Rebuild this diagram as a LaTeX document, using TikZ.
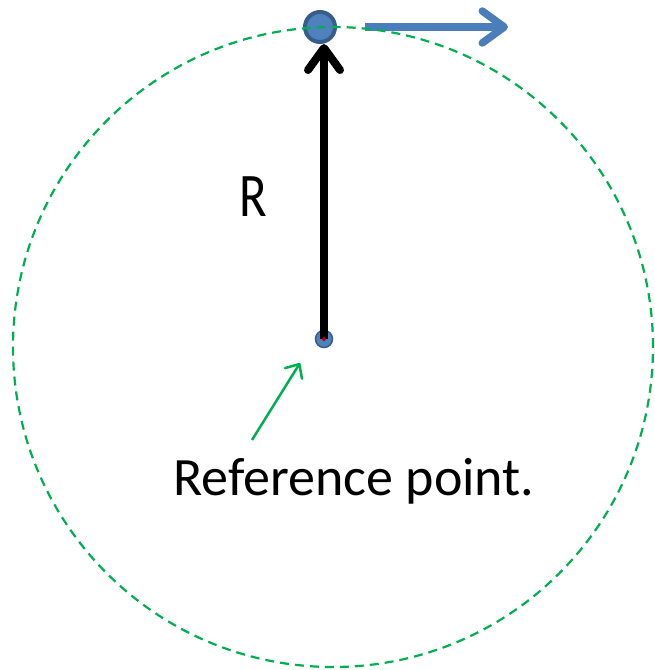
\documentclass[tikz,border=0pt]{standalone}
\usepackage{fontspec}
\setmainfont{Carlito}
\usetikzlibrary{arrows.meta, positioning}
\definecolor{massblue}{HTML}{4F81BD}
\definecolor{massedge}{HTML}{385D8A}
\definecolor{velblue}{HTML}{4A7EBB}
\definecolor{orbitgreen}{HTML}{00B050}
\tikzset{
    mass/.style={circle, draw=massedge, fill=massblue, line width=4pt, minimum size=30pt, inner sep=0pt},
    refdot/.style={circle, draw=massedge, fill=massblue, line width=1.5pt, minimum size=17pt, inner sep=0pt},
    orbit/.style={draw=orbitgreen, line width=2.2pt, dash pattern=on 9pt off 6pt},
    radius arrow/.style={-{Straight Barb[length=22pt, width=32pt, round]}, line width=8pt},
    velocity/.style={-{Straight Barb[length=22pt, width=32pt, round]}, line width=7.5pt, draw=velblue},
    pointer/.style={-{Straight Barb[length=11pt, width=20pt, round]}, line width=2.5pt, draw=orbitgreen},
    label/.style={font=\fontsize{54}{56}\selectfont, inner sep=0pt},
}
\begin{document}
\begin{tikzpicture}[x=1pt, y=-1pt]
    \useasboundingbox (0,0) rectangle (654,670);

    \node[refdot] (ref) at (324,339) {};
    \node[mass] (body) at (320,27) {};
    \coordinate (vtip) at (508,27);
    \coordinate (ptail) at (252,440);
    \coordinate (ptip) at (300,363);

    % radius and velocity
    \draw[radius arrow] (ref.center) -- (ref.center |- body.south);
    \fill[red!70!black] (ref.center) circle (2pt);
    \draw[velocity] (body.east) ++(28pt,0) coordinate (vtail) -- (vtip);

    % the orbit
    \draw[orbit] (333,347) circle (320pt);

    \node[label, font=\fontsize{62}{64}\selectfont, xscale=0.82] (rlabel) at (253,197) {R};
    \node[label, anchor=base] (reftext) at (354,495) {Reference point.};
    \draw[pointer] (ptail) -- (ptip);
\end{tikzpicture}
\end{document}
